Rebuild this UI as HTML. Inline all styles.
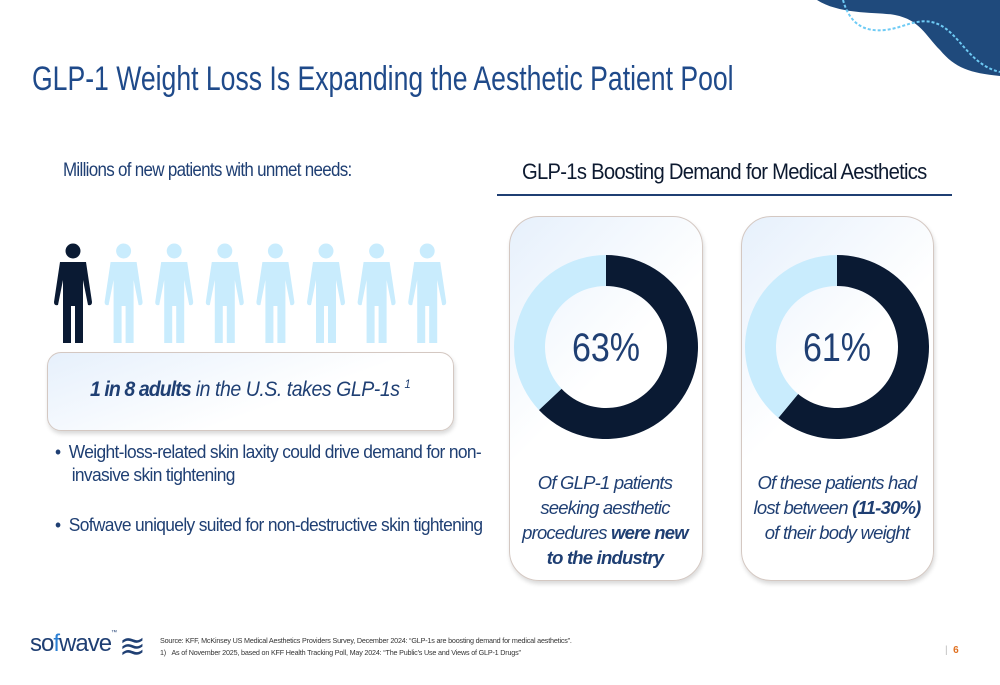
<!DOCTYPE html>
<html><head><meta charset="utf-8"><style>
body{margin:0;width:1000px;height:685px;background:#fff;position:relative;overflow:hidden;font-family:"Liberation Sans",sans-serif}
.a{position:absolute}
.sx{transform-origin:0 0;white-space:nowrap}
.card{position:absolute;border:1.5px solid #d4c8c2;border-radius:30px;background:linear-gradient(135deg,#e6f0fc 0%,#fff 45%,#fff 100%);box-shadow:1px 3px 4px rgba(0,0,0,.15)}
.cap{position:absolute;text-align:center;font-style:italic;color:#1f3f73;font-size:18.5px;line-height:25px;letter-spacing:-0.8px}
</style></head><body>
<svg class="a" style="left:780px;top:0" width="220" height="90" viewBox="0 0 220 90">
<path d="M37 0 C60 15 100 12 115 15 C140 20 145 35 160 50 C175 68 190 73 220 76 L220 0 Z" fill="#1f4a7c"/>
<path d="M63 0 C70 25 85 32 105 30 C125 28 140 15 160 25 C180 35 190 65 220 72" fill="none" stroke="#6ecbf5" stroke-width="2" stroke-dasharray="3,2"/>
</svg>
<div class="a sx" style="left:32px;top:60px;font-size:34px;color:#1f4a8a;transform:scaleX(0.782)">GLP-1 Weight Loss Is Expanding the Aesthetic Patient Pool</div>
<div class="a sx" style="left:63px;top:159px;font-size:19.5px;color:#1f3f73;letter-spacing:-0.8px;transform:scaleX(0.87)">Millions of new patients with unmet needs:</div>
<div class="a sx" style="left:522px;top:159px;font-size:22px;color:#0d1a30;letter-spacing:-0.8px;transform:scaleX(0.92)">GLP-1s Boosting Demand for Medical Aesthetics</div>
<div class="a" style="left:497px;top:194px;width:455px;height:2px;background:#1f3f73"></div>
<svg class="a" id="people" style="left:0;top:240px" width="480" height="110"></svg>
<div class="card" style="left:47px;top:352px;width:405px;height:77px;border-radius:14px;background:linear-gradient(160deg,#e6f0fc 0%,#fff 60%)"></div>
<div class="a sx" style="left:90px;top:377px;font-size:21px;font-style:italic;color:#1f3f73;letter-spacing:-0.5px;transform:scaleX(0.93)"><b style="letter-spacing:-1px">1 in 8 adults</b> in the U.S. takes GLP-1s <sup style="font-size:12px">1</sup></div>
<div class="a sx" style="left:55px;top:440px;font-size:18.5px;line-height:23px;color:#1f3f73;letter-spacing:-0.7px;transform:scaleX(0.94)">•&nbsp;&nbsp;Weight-loss-related skin laxity could drive demand for non-<br>&nbsp;&nbsp;&nbsp;&nbsp;invasive skin tightening</div>
<div class="a sx" style="left:55px;top:514px;font-size:18.5px;color:#1f3f73;letter-spacing:-0.7px;transform:scaleX(0.94)">•&nbsp;&nbsp;Sofwave uniquely suited for non-destructive skin tightening</div>
<div class="card" style="left:509px;top:216px;width:192px;height:363px"></div>
<div class="card" style="left:741px;top:216px;width:191px;height:363px"></div>
<svg class="a" id="donuts" style="left:0;top:0" width="1000" height="685"></svg>
<div class="cap" style="left:515px;top:470px;width:180px">Of GLP-1 patients<br>seeking aesthetic<br>procedures <b>were new<br>to the industry</b></div>
<div class="cap" style="left:742px;top:470px;width:190px">Of these patients had<br>lost between <b>(11-30%)</b><br>of their body weight</div>
<div class="a" style="left:30px;top:630px;font-size:24px;color:#1f3f73;letter-spacing:-1px">so<span style="color:#2a7fd4">f</span>wave<span style="font-size:6px;vertical-align:top">™</span></div>
<div class="a" style="left:119px;top:631px;font-size:32px;color:#1f3f73;line-height:30px">≋</div>
<div class="a sx" style="left:160px;top:635px;font-size:7.5px;line-height:12px;color:#333;letter-spacing:-0.2px;transform:scaleX(0.96)">Source: KFF, McKinsey US Medical Aesthetics Providers Survey, December 2024: “GLP-1s are boosting demand for medical aesthetics”.<br>1)&nbsp;&nbsp;&nbsp;As of November 2025, based on KFF Health Tracking Poll, May 2024: “The Public's Use and Views of GLP-1 Drugs”</div>
<div class="a" style="left:945px;top:645px;font-size:10px;color:#e07020;font-weight:bold"><span style="color:#bbb;font-weight:normal">|&nbsp;&nbsp;</span>6</div>
<script>
const donutLabels=["63%","61%"];
const donutValues=[63,61];
const peopleTotal=8;
const peopleHighlighted=1;
const NS="http://www.w3.org/2000/svg";
const ppl=document.getElementById('people');
for(let i=0;i<peopleTotal;i++){
  const cx=73+i*50.6, col=i<peopleHighlighted?'#0a1a33':'#c9ecfd';
  const g=document.createElementNS(NS,'g');
  
  
  g.setAttribute('fill',col);
  g.innerHTML=`<circle cx="${cx}" cy="11" r="7.5"/>
  <path d="M${cx-13} 22 L${cx+13} 22 L${cx+19} 62 Q${cx+19} 66 ${cx+15} 65 L${cx+10} 40 L${cx+10} 103 L${cx+2} 103 L${cx+2} 66 L${cx-2} 66 L${cx-2} 103 L${cx-10} 103 L${cx-10} 40 L${cx-15} 65 Q${cx-19} 66 ${cx-19} 62 Z"/>`;
  ppl.appendChild(g);
}
const dn=document.getElementById('donuts');
const centers=[606,837];
function pt(cx,cy,r,a){return [cx+r*Math.sin(a),cy-r*Math.cos(a)];}
donutValues.forEach((v,i)=>{
  const cx=centers[i],cy=347,R=92,r=61;
  const ang=v/100*2*Math.PI;
  function arc(a0,a1,fill,name){
    const [x0,y0]=pt(cx,cy,R,a0),[x1,y1]=pt(cx,cy,R,a1),[x2,y2]=pt(cx,cy,r,a1),[x3,y3]=pt(cx,cy,r,a0);
    const lg=(a1-a0)>Math.PI?1:0;
    const p=document.createElementNS(NS,'path');
    p.setAttribute('d',`M${x0} ${y0} A${R} ${R} 0 ${lg} 1 ${x1} ${y1} L${x2} ${y2} A${r} ${r} 0 ${lg} 0 ${x3} ${y3} Z`);
    p.setAttribute('fill',fill);
    
    
    dn.appendChild(p);
  }
  arc(0,ang,'#0a1a33','donut-value-slice');
  arc(ang,2*Math.PI-0.0001,'#c9ecfd','donut-remainder-slice');
  const t=document.createElementNS(NS,'text');
  t.setAttribute('x',cx);t.setAttribute('y',cy+14);
  t.setAttribute('text-anchor','middle');
  t.setAttribute('font-size','40');
  t.setAttribute('fill','#1f3f73');
  t.setAttribute('font-family','Liberation Sans, sans-serif');
  t.setAttribute('transform',`translate(${cx} 0) scale(0.85 1) translate(${-cx} 0)`);
  
  
  t.textContent=donutLabels[i];
  dn.appendChild(t);
});
</script>
</body></html>
